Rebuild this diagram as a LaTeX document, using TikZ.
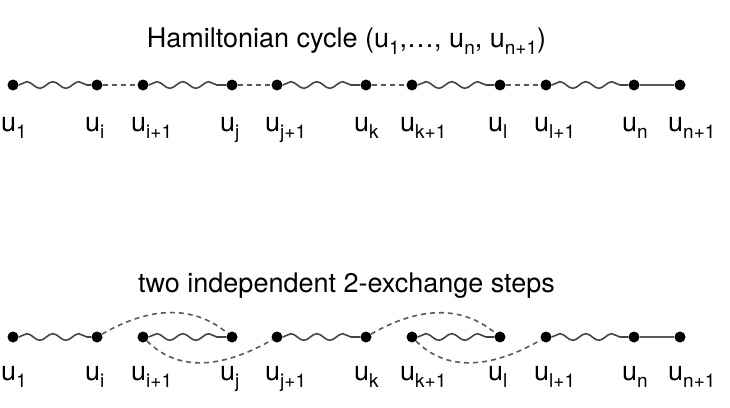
\documentclass[tikz,border=0pt]{standalone}
\usepackage{fontspec}
\setmainfont{TeX Gyre Heros}
\usepackage{xcolor}
\definecolor{PathGray}{HTML}{444444}
\definecolor{EdgeGray}{HTML}{5A5A5A}
\usepackage{tikz}
\usetikzlibrary{positioning,calc,decorations.pathmorphing}
\newcommand{\sbs}[1]{\raisebox{-0.27em}{\fontsize{19}{22}\selectfont #1}}

\begin{document}
\begin{tikzpicture}[
  on grid,
  dot/.style={circle,fill=black,inner sep=0pt,minimum size=11pt},
  lab/.style={anchor=base west,inner sep=0pt,font=\fontsize{27}{32}\selectfont},
  ttl/.style={anchor=base,inner sep=0pt,font=\fontsize{27}{32}\selectfont},
  wave/.style={decorate,decoration={snake,segment length=26pt,amplitude=3.3pt},draw=PathGray,line width=1.6pt},
  link/.style={draw=EdgeGray,dash pattern=on 5pt off 4pt,line width=1.6pt},
  tail/.style={draw=EdgeGray,line width=1.8pt}
]
  \useasboundingbox (0pt,0pt) rectangle (730pt,-407pt);

  % Hamiltonian cycle
  \node[dot] (a1) at (13pt,-85pt) {};
  \node[dot,right=84pt of a1] (ai) {};
  \node[dot,right=46pt of ai] (ai1) {};
  \node[dot,right=89pt of ai1] (aj) {};
  \node[dot,right=45pt of aj] (aj1) {};
  \node[dot,right=89pt of aj1] (ak) {};
  \node[dot,right=46pt of ak] (ak1) {};
  \node[dot,right=88pt of ak1] (al) {};
  \node[dot,right=46pt of al] (al1) {};
  \node[dot,right=88pt of al1] (an) {};
  \node[dot,right=46pt of an] (an1) {};
  \node[ttl] (ttop) at ($(a1)!0.5!(an1)+(0pt,38pt)$) {Hamiltonian cycle (u\sbs{1},\dots, u\sbs{n}, u\sbs{n+1})};

  \draw[wave] (a1)--(ai);
  \draw[wave] (ai1)--(aj);
  \draw[wave] (aj1)--(ak);
  \draw[wave] (ak1)--(al);
  \draw[wave] (al1)--(an);
  \draw[link] (ai)--(ai1);
  \draw[link] (aj)--(aj1);
  \draw[link] (ak)--(ak1);
  \draw[link] (al)--(al1);
  \draw[tail] (an)--(an1);

  % after the two exchanges
  \node[dot,below=252pt of a1] (b1) {};
  \node[dot,below=252pt of ai] (bi) {};
  \node[dot,below=252pt of ai1] (bi1) {};
  \node[dot,below=252pt of aj] (bj) {};
  \node[dot,below=252pt of aj1] (bj1) {};
  \node[dot,below=252pt of ak] (bk) {};
  \node[dot,below=252pt of ak1] (bk1) {};
  \node[dot,below=252pt of al] (bl) {};
  \node[dot,below=252pt of al1] (bl1) {};
  \node[dot,below=252pt of an] (bn) {};
  \node[dot,below=252pt of an1] (bn1) {};
  \node[ttl] (tbot) at ($(b1)!0.5!(bn1)+(0pt,45pt)$) {two independent 2-exchange steps};

  \draw[wave] (b1)--(bi);
  \draw[wave] (bi1)--(bj);
  \draw[wave] (bj1)--(bk);
  \draw[wave] (bk1)--(bl);
  \draw[wave] (bl1)--(bn);
  \draw[tail] (bn)--(bn1);
  \draw[link] (bi) to[out=30,in=140] (bj);
  \draw[link] (bi1) to[out=-45,in=-150] (bj1);
  \draw[link] (bk) to[out=30,in=140] (bl);
  \draw[link] (bk1) to[out=-45,in=-150] (bl1);

  \foreach \n/\s in {1/1,i/i,i1/i+1,j/j,j1/j+1,k/k,k1/k+1,l/l,l1/l+1,n/n,n1/n+1}{
    \node[lab] (la\n) at ([shift={(-12pt,-46pt)}]a\n) {u\sbs{\s}};
    \node[lab] (lb\n) at ([shift={(-12pt,-43pt)}]b\n) {u\sbs{\s}};
  }
\end{tikzpicture}
\end{document}
